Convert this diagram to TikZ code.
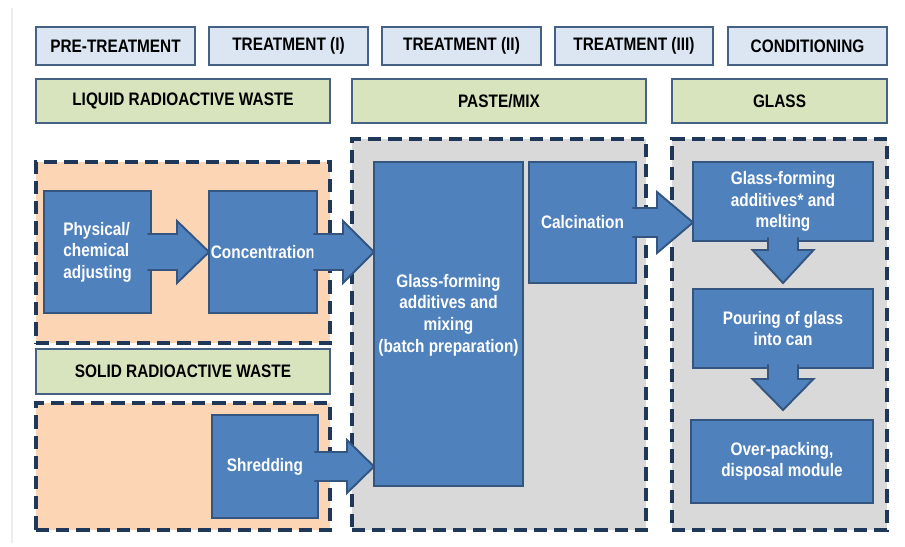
\documentclass[tikz,border=0pt]{standalone}
\usepackage{fontspec}
\setmainfont{Liberation Sans}[FakeStretch=0.85]
\usetikzlibrary{calc}
\definecolor{headblue}{RGB}{220,230,242}
\definecolor{headline}{RGB}{69,98,134}
\definecolor{labelgreen}{RGB}{215,228,189}
\definecolor{wasteorange}{RGB}{252,213,181}
\definecolor{zonegray}{RGB}{217,217,217}
\definecolor{stepblue}{RGB}{79,129,189}
\definecolor{stepline}{RGB}{52,85,128}
\definecolor{dashnavy}{RGB}{31,56,90}
\newcommand{\pxu}{0.569pt}

\begin{document}
\begin{tikzpicture}[x=0.02cm, y=-0.02cm,
    every node/.style={font=\fontsize{10.3}{12.3}\selectfont\bfseries, inner sep=0pt, outer sep=0pt},
    wh/.style 2 args={minimum width=#1*0.02cm, minimum height=#2*0.02cm},
    phase/.style={draw=headline, line width=1pt, fill=headblue, text=black},
    waste/.style={draw=headline, line width=1pt, fill=labelgreen, text=black},
    zone/.style={draw=dashnavy, line width=1.8pt, dash pattern=on 7.5pt off 4pt},
    stepbox/.style={draw=stepline, line width=1.1pt, fill=stepblue, text=white, align=center},
    harrow/.style n args={3}{fill=stepblue, draw=stepline, line width=1.1pt,
      to path={let \p1=(\tikztostart), \p2=(\tikztotarget) in
        (\x1-2pt,\y2+#1*\pxu) -- (\x2-#3*\pxu,\y2+#1*\pxu) -- (\x2-#3*\pxu,\y2+#2*\pxu)
        -- (\x2,\y2) -- (\x2-#3*\pxu,\y2-#2*\pxu) -- (\x2-#3*\pxu,\y2-#1*\pxu) -- (\x1-2pt,\y2-#1*\pxu)}},
    varrow/.style n args={3}{fill=stepblue, draw=stepline, line width=1.1pt,
      to path={let \p1=(\tikztostart), \p2=(\tikztotarget) in
        (\x2+#1*\pxu,\y1+2pt) -- (\x2+#1*\pxu,\y2+#3*\pxu) -- (\x2+#2*\pxu,\y2+#3*\pxu)
        -- (\x2,\y2) -- (\x2-#2*\pxu,\y2+#3*\pxu) -- (\x2-#1*\pxu,\y2+#3*\pxu) -- (\x2-#1*\pxu,\y1+2pt)}},
]
    \useasboundingbox (0,0) rectangle (905,547);
    \draw[black!7, line width=1.5pt] (12,8) -- (12,543);

    % Phases
    \node[phase, wh={159}{38}] (pre) at (115.5,46) {PRE-TREATMENT};
    \node[phase, wh={159}{38}] (treatI) at (288.5,46) {TREATMENT (I)};
    \node[phase, wh={159}{38}] (treatII) at (461.5,46) {TREATMENT (II)};
    \node[phase, wh={158}{38}] (treatIII) at (634,46) {TREATMENT (III)};
    \node[phase, wh={159}{38}] (cond) at (807.5,46) {CONDITIONING};

    % Waste / product forms
    \node[waste, wh={294}{44}] (liquid) at (183,101) {LIQUID RADIOACTIVE WASTE};
    \node[waste, wh={294}{44}] (paste) at (499,101) {PASTE/MIX};
    \node[waste, wh={215}{44}] (glass) at (779.5,101) {GLASS};

    % Dashed zones
    \node[zone, fill=wasteorange, wh={294}{181}] (liqzone) at (183,252.5) {};
    \node[waste, wh={294}{45}] (solid) at (183,371.5) {SOLID RADIOACTIVE WASTE};
    \node[zone, fill=wasteorange, wh={294}{127}] (solzone) at (183,466.5) {};
    \node[zone, fill=zonegray, wh={294}{391}] (pastezone) at (499,334.5) {};
    \node[zone, fill=zonegray, wh={215}{391}] (glasszone) at (779.5,334.5) {};

    % Process steps
    \node[stepbox, align=left, wh={107}{122}] (phys) at (97.5,252) {Physical/\\chemical\\adjusting};
    \node[stepbox, wh={108}{122}] (conc) at (263,252) {Concentration};
    \node[stepbox, wh={106}{103}] (shred) at (265,466.5) {Shredding};
    \node[stepbox, wh={149}{324}] (mix) at (448.5,324) {};
    \node[text=white, align=center] (mixtext) at (448.5,315) {Glass-forming\\additives and\\mixing\\(batch preparation)};
    \node[stepbox, wh={107}{121}] (calc) at (582.5,222.5) {Calcination};
    \node[stepbox, wh={180}{79}] (melt) at (783,201.5) {Glass-forming\\additives* and\\melting};
    \node[stepbox, wh={180}{79}] (pour) at (783,328.5) {Pouring of glass\\into can};
    \node[stepbox, wh={182}{83}] (pack) at (782,461.5) {Over-packing,\\disposal module};

    % Arrows
    \coordinate (pourtip) at ($(pour.north)+(0,-6)$);
    \coordinate (packtip) at ($(pour.south|-pack.north)+(0,-10)$);
    \draw[harrow={18}{31}{32}] (phys.east) to (conc.west);
    \draw[harrow={18}{31}{31}] (conc.east) to (mix.west|-conc.east);
    \draw[harrow={14.5}{26.5}{27}] (shred.east) to (mix.west|-shred.east);
    \draw[harrow={14.5}{30.5}{36}] (calc.east) to (melt.west|-calc.east);
    \draw[varrow={15}{30.5}{33}] (melt.south) to (pourtip);
    \draw[varrow={15}{30.5}{31}] (pour.south) to (packtip);
\end{tikzpicture}
\end{document}
